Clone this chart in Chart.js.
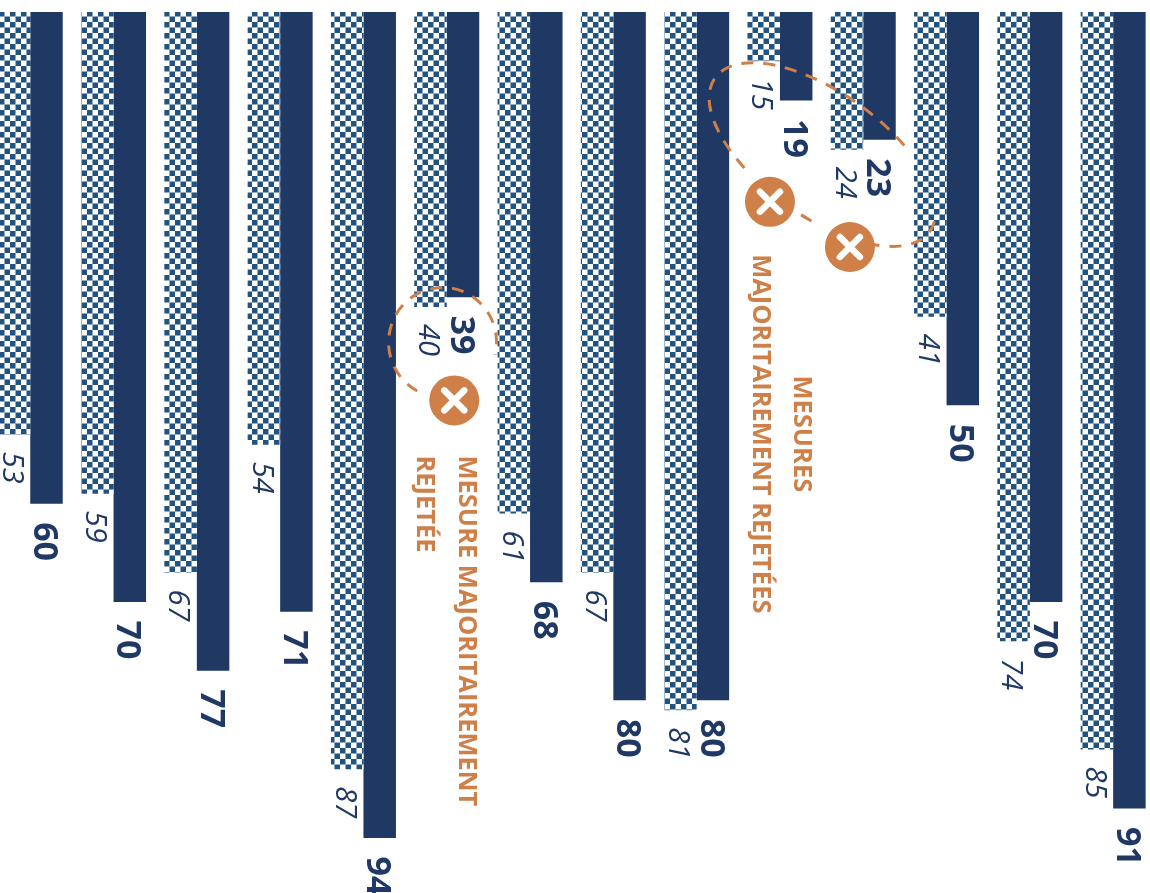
<!DOCTYPE html>
<html>
<head>
<meta charset="utf-8">
<title>Mesures</title>
<style>
  html, body { margin: 0; padding: 0; background: #fff; overflow: hidden; width: 1150px; height: 893px; }
  #graphique { position: absolute; left: -12px; top: 0; }
</style>
<script src="https://cdn.jsdelivr.net/npm/chart.js@4"></script>
</head>
<body>
<canvas id="graphique"></canvas>
<script>
const categories = ["1", "2", "3", "4", "5", "6", "7", "8", "9", "10", "11", "12", "13", "14"];
const valeursMotif = [53, 59, 67, 54, 87, 40, 61, 67, 81, 15, 24, 41, 74, 85];
const valeursPleines = [60, 70, 77, 71, 94, 39, 68, 80, 80, 19, 23, 50, 70, 91];

// annotations, placees en coordonnees du graphique (groupe, valeur)
const croix = [[5.09, 49.5], [8.88, 29.3], [9.84, 33.9]];
const texteUn = ["MESURE MAJORITAIREMENT", "REJETÉE"];
const texteDeux = ["MESURES", "MAJORITAIREMENT REJETÉES"];

const MARINE = "#1f3864";
const ORANGE = "#cf7f48";
const deg = (a) => (a * Math.PI) / 180;

// motif damier du premier jeu de barres
function damier() {
  const c = document.createElement("canvas");
  c.width = 11;
  c.height = 11;
  const x = c.getContext("2d");
  x.fillStyle = "#fff";
  x.fillRect(0, 0, 11, 11);
  x.fillStyle = "#22527f";
  x.fillRect(0, 0, 5.5, 5.5);
  x.fillRect(5.5, 5.5, 5.5, 5.5);
  return document.createElement("canvas").getContext("2d").createPattern(c, "repeat");
}

// texte tourne de 90 degres
function texteTourne(ctx, txt, x, y, font, couleur, align) {
  ctx.save();
  ctx.translate(x, y);
  ctx.rotate(Math.PI / 2);
  ctx.font = font;
  ctx.fillStyle = couleur;
  ctx.textAlign = align || "left";
  ctx.textBaseline = "middle";
  ctx.fillText(txt, 0, 0);
  ctx.restore();
}

const etiquettes = {
  id: "etiquettes",
  afterDatasetsDraw(chart) {
    const ctx = chart.ctx;
    chart.getDatasetMeta(0).data.forEach((barre, i) => {
      texteTourne(ctx, valeursMotif[i], barre.x - 3, barre.y + 17,
        'italic 29px "Open Sans"', MARINE);
    });
    chart.getDatasetMeta(1).data.forEach((barre, i) => {
      texteTourne(ctx, valeursPleines[i], barre.x - 2.7, barre.y + 18.5,
        'bold 34px "Open Sans"', MARINE);
    });
  },
};

const annotations = {
  id: "annotations",
  afterDraw(chart) {
    const ctx = chart.ctx;
    const sx = chart.scales.x;
    const sy = chart.scales.y;
    const pas = sx.getPixelForValue(1) - sx.getPixelForValue(0);
    const px = (g) => sx.getPixelForValue(0) + g * pas;
    const py = (v) => sy.getPixelForValue(v);

    // pointilles autour des mesures rejetees
    ctx.save();
    ctx.strokeStyle = ORANGE;
    ctx.lineWidth = 3;
    ctx.setLineDash([12, 10]);
    ctx.beginPath();
    ctx.ellipse(px(4.95), py(43.6), 54, 55, 0, deg(118), deg(373));
    ctx.stroke();
    [[115, 301], [77, 83], [-10, 45]].forEach(([a, b]) => {
      ctx.beginPath();
      ctx.ellipse(px(9.51), py(24.5), 132, 62, 0.62, deg(a), deg(b));
      ctx.stroke();
    });
    ctx.restore();

    // ronds avec croix
    croix.forEach(([g, v]) => {
      const x = px(g);
      const y = py(v);
      ctx.save();
      ctx.fillStyle = ORANGE;
      ctx.beginPath();
      ctx.arc(x, y, 25, 0, Math.PI * 2);
      ctx.fill();
      ctx.strokeStyle = "#fff";
      ctx.lineWidth = 6.5;
      ctx.lineCap = "round";
      ctx.beginPath();
      ctx.moveTo(x - 10, y - 10);
      ctx.lineTo(x + 10, y + 10);
      ctx.moveTo(x + 10, y - 10);
      ctx.lineTo(x - 10, y + 10);
      ctx.stroke();
      ctx.restore();
    });

    const police = 'bold 25.5px "Open Sans"';
    texteTourne(ctx, texteUn[0], px(5.23), py(55.1), police, ORANGE);
    texteTourne(ctx, texteUn[1], px(4.73), py(55.1), police, ORANGE);
    texteTourne(ctx, texteDeux[0], px(9.26), py(52.9), police, ORANGE, "center");
    texteTourne(ctx, texteDeux[1], px(8.76), py(52.9), police, ORANGE, "center");
  },
};

const canvas = document.getElementById("graphique");
canvas.width = 1170;
canvas.height = 897;
canvas.style.width = "1170px";
canvas.style.height = "897px";

new Chart(canvas.getContext("2d"), {
  type: "bar",
  data: {
    labels: categories,
    datasets: [
      { data: valeursMotif, backgroundColor: damier(), borderWidth: 0 },
      { data: valeursPleines, backgroundColor: MARINE, borderWidth: 0 },
    ],
  },
  options: {
    responsive: false,
    animation: false,
    devicePixelRatio: 1,
    layout: { padding: { top: 12, left: 0.6, right: 3.2, bottom: 0 } },
    datasets: { bar: { categoryPercentage: 0.78, barPercentage: 1 } },
    plugins: { legend: { display: false }, tooltip: { enabled: false } },
    scales: {
      x: { display: false },
      y: { display: false, reverse: true, min: 10, max: 100 },
    },
  },
  plugins: [etiquettes, annotations],
});
</script>
</body>
</html>
